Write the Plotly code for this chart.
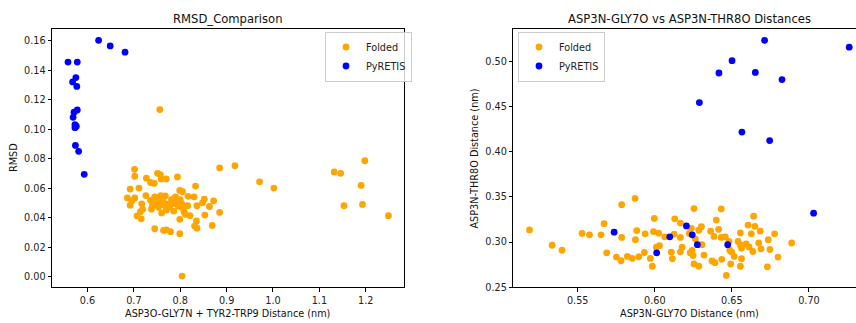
import plotly.graph_objects as go

# ---------------- Data ----------------
# Left: RMSD vs ASP3O-GLY7N + TYR2-TRP9 distance
folded_dist = [0.756, 0.804, 0.885, 0.918, 0.971, 1.002, 1.132, 1.146, 1.198, 1.190, 1.153, 1.193, 1.249,
               0.7015, 0.702, 0.727, 0.751, 0.757, 0.759, 0.770, 0.794, 0.692, 0.711, 0.736, 0.744, 0.833,
               0.799, 0.805, 0.686, 0.702, 0.692, 0.696, 0.707, 0.716, 0.717, 0.719, 0.714, 0.726, 0.736,
               0.740, 0.738, 0.745, 0.747, 0.751, 0.753, 0.756, 0.760, 0.763, 0.766, 0.768, 0.770, 0.773,
               0.777, 0.781, 0.785, 0.786, 0.790, 0.792, 0.796, 0.798, 0.800, 0.803, 0.805, 0.808, 0.811,
               0.816, 0.817, 0.821, 0.830, 0.836, 0.848, 0.852, 0.853, 0.863, 0.872, 0.885, 0.869, 0.831,
               0.836, 0.835, 0.799, 0.745, 0.764, 0.770, 0.779, 0.799, 0.758, 0.788]
folded_rmsd = [0.1133, 0.0004, 0.0737, 0.0752, 0.0643, 0.0601, 0.0710, 0.0701, 0.0786, 0.0619, 0.0481, 0.0490, 0.0414,
               0.0728, 0.0681, 0.0668, 0.0701, 0.0692, 0.0663, 0.0663, 0.0676, 0.0594, 0.0601, 0.0639, 0.0632, 0.0614,
               0.0585, 0.0576, 0.0534, 0.0534, 0.0485, 0.0514, 0.0412, 0.0392, 0.0494, 0.0458, 0.0441, 0.0550, 0.0518,
               0.0481, 0.0458, 0.0541, 0.0510, 0.0492, 0.0470, 0.0534, 0.0432, 0.0507, 0.0485, 0.0548, 0.0452, 0.0492,
               0.0474, 0.0523, 0.0496, 0.0445, 0.0541, 0.0507, 0.0478, 0.0514, 0.0523, 0.0496, 0.0467, 0.0441, 0.0423,
               0.0481, 0.0545, 0.0414, 0.0541, 0.0481, 0.0501, 0.0525, 0.0418, 0.0476, 0.0514, 0.0436, 0.0347, 0.0343,
               0.0329, 0.0378, 0.0389, 0.0325, 0.0314, 0.0318, 0.0305, 0.0292, 0.0550, 0.0530]
pyretis_dist = [0.558, 0.578, 0.624, 0.649, 0.681, 0.568, 0.575, 0.577, 0.578, 0.571, 0.569, 0.573, 0.576,
                0.573, 0.574, 0.581, 0.593]
pyretis_rmsd = [0.1455, 0.1455, 0.1602, 0.1564, 0.1522, 0.1320, 0.1350, 0.1290, 0.1130, 0.1115, 0.1080, 0.1030,
                0.1020, 0.1010, 0.0890, 0.0850, 0.0694]

# Right: ASP3N-GLY7O vs ASP3N-THR8O distances
folded_gly7o = [0.5187, 0.5334, 0.5398, 0.5528, 0.5576, 0.5651, 0.5671, 0.5688, 0.5751, 0.5781, 0.5785, 0.5785,
                0.5822, 0.5854, 0.5872, 0.5874, 0.5883, 0.5896, 0.5937, 0.5932, 0.5971, 0.5984, 0.5991, 0.5997,
                0.6010, 0.6025, 0.6030, 0.6064, 0.6107, 0.6114, 0.6125, 0.6129, 0.6166, 0.6166, 0.6177, 0.6166,
                0.6224, 0.6229, 0.6237, 0.6242, 0.6248, 0.6254, 0.6254, 0.6263, 0.6285, 0.6285, 0.6302, 0.6306,
                0.6319, 0.6362, 0.6371, 0.6384, 0.6390, 0.6399, 0.6414, 0.6431, 0.6431, 0.6434, 0.6457, 0.6464,
                0.6481, 0.6486, 0.6492, 0.6499, 0.6540, 0.6555, 0.6555, 0.6562, 0.6562, 0.6555, 0.6515, 0.6592,
                0.6605, 0.6611, 0.6626, 0.6636, 0.6641, 0.6649, 0.6674, 0.6684, 0.6689, 0.6730, 0.6736, 0.6747,
                0.6777, 0.6799, 0.6888]
folded_thr8o = [0.3134, 0.2964, 0.2909, 0.3094, 0.3080, 0.3080, 0.3203, 0.2880, 0.2833, 0.2793, 0.3413, 0.3051,
                0.2841, 0.2819, 0.3482, 0.3025, 0.3127, 0.2837, 0.3091, 0.2884, 0.2819, 0.2732, 0.3116, 0.3261,
                0.2942, 0.3098, 0.2960, 0.3058, 0.2888, 0.2815, 0.3087, 0.3257, 0.3210, 0.2891, 0.2942, 0.3051,
                0.3094, 0.2880, 0.3152, 0.2906, 0.2851, 0.3370, 0.2757, 0.3033, 0.2732, 0.3130, 0.3170, 0.2971,
                0.2855, 0.3120, 0.2790, 0.3062, 0.2772, 0.3243, 0.3141, 0.3366, 0.3051, 0.2808, 0.3058, 0.2630,
                0.3007, 0.2909, 0.2757, 0.2888, 0.3007, 0.3101, 0.2967, 0.2931, 0.2815, 0.2732, 0.2841, 0.2978,
                0.3188, 0.2946, 0.3091, 0.2895, 0.3286, 0.3174, 0.2989, 0.3120, 0.2924, 0.2725, 0.3025, 0.2917,
                0.3091, 0.2833, 0.2989]
pyretis_gly7o = [0.5736, 0.6012, 0.6097, 0.6205, 0.6243, 0.6276, 0.6473, 0.6289, 0.6416, 0.6501, 0.6565, 0.6652,
                 0.6712, 0.6745, 0.6825, 0.7030, 0.7261]
pyretis_thr8o = [0.3109, 0.2880, 0.3058, 0.3178, 0.3080, 0.2971, 0.2971, 0.4543, 0.4870, 0.5007, 0.4217, 0.4877,
                 0.5232, 0.4123, 0.4797, 0.3319, 0.5156]

left_xticks = [0.6, 0.7, 0.8, 0.9, 1.0, 1.1, 1.2]
left_yticks = [0.00, 0.02, 0.04, 0.06, 0.08, 0.10, 0.12, 0.14, 0.16]
right_xticks = [0.55, 0.60, 0.65, 0.70]
right_yticks = [0.25, 0.30, 0.35, 0.40, 0.45, 0.50]

# ---------------- Figure ----------------
W, H = 856, 323
FONT = "DejaVu Sans"
TICK_SIZE = 9.7
TITLE_SIZE = 11.6
ORANGE = "orange"
BLUE = "blue"
MS = 6.8

fig = go.Figure()

def add(x, y, color, name, xa, ya, legend):
    fig.add_trace(go.Scatter(x=x, y=y, mode="markers", name=name,
                             marker=dict(color=color, size=MS, line=dict(width=0)),
                             xaxis=xa, yaxis=ya, legend=legend))

add(folded_dist, folded_rmsd, ORANGE, "Folded", "x", "y", "legend")
add(pyretis_dist, pyretis_rmsd, BLUE, "PyRETIS", "x", "y", "legend")
add(folded_gly7o, folded_thr8o, ORANGE, "Folded", "x2", "y2", "legend2")
add(pyretis_gly7o, pyretis_thr8o, BLUE, "PyRETIS", "x2", "y2", "legend2")

def px(v):
    return v / W

def py(v):
    return 1 - v / H

axis_common = dict(showgrid=False, zeroline=False, showline=True, linecolor="black", linewidth=1,
                   ticks="outside", ticklen=3.5, tickwidth=1, tickcolor="black",
                   tickfont=dict(family=FONT, size=TICK_SIZE, color="#222222"))

legend_common = dict(xanchor="left", yanchor="top",
                     bgcolor="rgba(255,255,255,0.8)", bordercolor="#cccccc", borderwidth=1,
                     font=dict(family=FONT, size=TICK_SIZE, color="#222222"),
                     itemwidth=30, tracegroupgap=0)

fig.update_layout(
    width=W, height=H,
    margin=dict(l=0, r=0, t=0, b=0),
    paper_bgcolor="white", plot_bgcolor="white",
    font=dict(family=FONT, size=TICK_SIZE, color="#222222"),
    xaxis=dict(domain=[px(52), px(404)], range=[0.5235, 1.2825], anchor="y", mirror=True,
               tickvals=left_xticks, ticktext=[f"{v:.1f}" for v in left_xticks], **axis_common),
    yaxis=dict(domain=[py(292), py(29)], range=[-0.0073, 0.1682], anchor="x", mirror=True,
               tickvals=left_yticks, ticktext=[f"{v:.2f}" for v in left_yticks], **axis_common),
    xaxis2=dict(domain=[px(513.3), 1.0], range=[0.5082, 0.7305], anchor="y2", mirror=True,
                tickvals=right_xticks, ticktext=[f"{v:.2f}" for v in right_xticks], **axis_common),
    yaxis2=dict(domain=[py(292), py(29)], range=[0.2497, 0.5362], anchor="x2", mirror=False,
                tickvals=right_yticks, ticktext=[f"{v:.2f}" for v in right_yticks], **axis_common),
    legend=dict(x=px(325), y=py(32), **legend_common),
    legend2=dict(x=px(518), y=py(32), **legend_common),
    showlegend=True,
)

annots = [
    dict(text="RMSD_Comparison", x=px(228), y=py(19), size=TITLE_SIZE, angle=0),
    dict(text="ASP3N-GLY7O vs ASP3N-THR8O Distances", x=px(689), y=py(19), size=TITLE_SIZE, angle=0),
    dict(text="ASP3O-GLY7N + TYR2-TRP9 Distance (nm)", x=px(228), y=py(318), size=TICK_SIZE, angle=0),
    dict(text="ASP3N-GLY7O Distance (nm)", x=px(689), y=py(318), size=TICK_SIZE, angle=0),
    dict(text="RMSD", x=px(13), y=py(160.5), size=TICK_SIZE, angle=-90),
    dict(text="ASP3N-THR8O Distance (nm)", x=px(474.5), y=py(160.5), size=TICK_SIZE, angle=-90),
]
for a in annots:
    fig.add_annotation(text=a["text"], x=a["x"], y=a["y"], xref="paper", yref="paper",
                       xanchor="center", yanchor="middle", showarrow=False, textangle=a["angle"],
                       font=dict(family=FONT, size=a["size"], color="#111111"))

fig.write_html("out.html")
